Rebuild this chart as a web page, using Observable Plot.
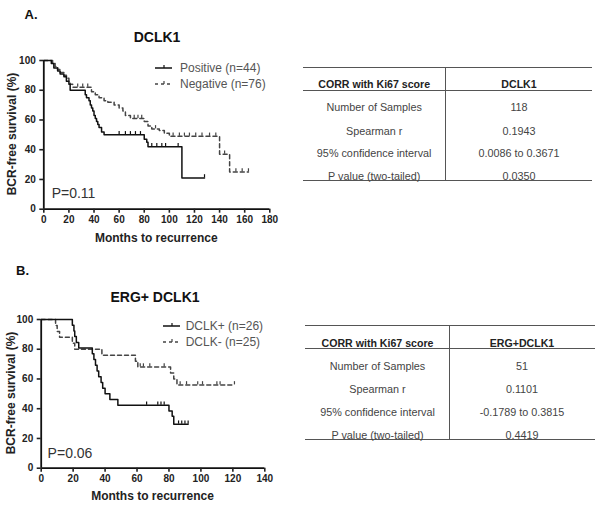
<!DOCTYPE html>
<html>
<head>
<meta charset="utf-8">
<script src="https://cdn.jsdelivr.net/npm/d3@7"></script>
<script src="https://cdn.jsdelivr.net/npm/@observablehq/plot@0.6"></script>
<style>
  html, body { margin: 0; padding: 0; background: #fff; }
  #root { position: relative; width: 600px; height: 507px; overflow: hidden; background: #fff;
          font-family: "Liberation Sans", Arial, sans-serif; }
  .t { position: absolute; white-space: nowrap; line-height: 1; transform: translate(-50%, -50%); }
  .l { position: absolute; white-space: nowrap; line-height: 1; transform: translate(0, -50%); }
  .hr { position: absolute; height: 0; border-top: 1.5px solid #555; }
  .vr { position: absolute; width: 0; border-left: 1.5px solid #555; }
  svg.plot { position: absolute; left: 0; overflow: visible; }
</style>
</head>
<body>
<div id="root"></div>
<script>
// ---------- Data ----------
// Panel A: DCLK1 (months, % BCR-free survival)
const aPositive = [[0,100],[6,98],[8,95],[11,93],[13,91],[16,89],[18,86],[20,84],[21,80],[33,77],[34,75],[36,73],[37,70],[38,68],[39,66],[40,63],[41,61],[42,59],[43,57],[44,55],[46,52],[48,50],[80,47],[82,45],[83,42],[110,21],[128,21]];
const aPositiveCensored = [[60,50],[65,50],[69,50],[73,50],[77,50],[86,42],[90,42],[94,42],[97,42],[107,42],[128,21]];
const aNegative = [[0,100],[7,98],[9,96],[11,94],[13,92],[16,90],[18,88],[20,86],[21,84],[23,82],[38,79],[41,77],[44,75],[48,73],[51,72],[56,70],[60,68],[63,66],[65,63],[69,61],[80,59],[83,56],[86,54],[92,53],[96,51],[100,49],[140,37],[148,25],[163,25]];
const aNegativeCensored = [[27,82],[31,82],[35,82],[72,61],[75,61],[78,61],[89,54],[103,49],[108,49],[112,49],[116,49],[121,49],[126,49],[132,49],[137,49],[144,37],[153,25],[158,25],[163,25]];
const aLegend = ["Positive (n=44)", "Negative (n=76)"];
const aTitle = "DCLK1", aP = "P=0.11";
const aXTicks = [0,20,40,60,80,100,120,140,160,180];

// Panel B: ERG+ DCLK1
const bPositive = [[0,100],[19.5,96.2],[20.5,92.3],[21,88.5],[22,84.6],[23.5,80.8],[32,76.9],[33,73.1],[34,69.2],[35,65.4],[36,61.5],[37.5,57.7],[38.5,53.8],[40,50],[43,46.2],[48,42.3],[80,38.5],[82,35],[83,29.6],[92,29.6]];
const bPositiveCensored = [[66,42.3],[73,42.3],[75,42.3],[77,42.3],[86,29.6],[88,29.6],[90,29.6],[92,29.6]];
const bNegative = [[0,100],[9,96],[10,92],[11.5,88],[19.5,84],[21,80],[38,76],[59,72],[60.5,68],[81,64],[83,60],[85,56],[121,56]];
const bNegativeCensored = [[62,68],[64,68],[68,68],[77,68],[87,56],[91,56],[98,56],[101,56],[110,56],[112,56],[121,56]];
const bLegend = ["DCLK+ (n=26)", "DCLK- (n=25)"];
const bTitle = "ERG+ DCLK1", bP = "P=0.06";
const bXTicks = [0,20,40,60,80,100,120,140];

const yTicks = [0,20,40,60,80,100];
const xLabel = "Months to recurrence";
const yLabel = "BCR-free survival (%)";

// Tables
const tableHeader = "CORR with Ki67 score";
const tableRows = ["Number of Samples", "Spearman r", "95% confidence interval", "P value (two-tailed)"];
const tableAColumn = "DCLK1";
const tableAValues = ["118", "0.1943", "0.0086 to 0.3671", "0.0350"];
const tableBColumn = "ERG+DCLK1";
const tableBValues = ["51", "0.1101", "-0.1789 to 0.3815", "0.4419"];

// ---------- Helpers ----------
const root = document.getElementById("root");
function txt(s, x, y, style, cls) {
  const d = document.createElement("div");
  d.className = cls || "t";
  d.textContent = s;
  d.style.left = x + "px"; d.style.top = y + "px";
  Object.assign(d.style, style || {});
  root.appendChild(d);
  return d;
}
function hr(x1, x2, y) {
  const d = document.createElement("div"); d.className = "hr";
  d.style.left = x1 + "px"; d.style.width = (x2 - x1) + "px"; d.style.top = (y - 0.75) + "px";
  root.appendChild(d);
}
function vr(x, y1, y2) {
  const d = document.createElement("div"); d.className = "vr";
  d.style.left = (x - 0.75) + "px"; d.style.top = y1 + "px"; d.style.height = (y2 - y1) + "px";
  root.appendChild(d);
}
function legendSample(x, y, dashed) {
  const ns = "http://www.w3.org/2000/svg";
  const s = document.createElementNS(ns, "svg");
  s.setAttribute("width", 20); s.setAttribute("height", 8);
  s.style.position = "absolute"; s.style.left = x + "px"; s.style.top = (y - 4) + "px";
  const ln = document.createElementNS(ns, "line");
  ln.setAttribute("x1", 1); ln.setAttribute("x2", 18); ln.setAttribute("y1", 4); ln.setAttribute("y2", 4);
  ln.setAttribute("stroke", dashed ? "#444" : "#111"); ln.setAttribute("stroke-width", 1.5);
  if (dashed) ln.setAttribute("stroke-dasharray", "3,3");
  s.appendChild(ln);
  const tk = document.createElementNS(ns, "line");
  tk.setAttribute("x1", 10); tk.setAttribute("x2", 10); tk.setAttribute("y1", 4); tk.setAttribute("y2", 1);
  tk.setAttribute("stroke", dashed ? "#444" : "#111"); tk.setAttribute("stroke-width", 1.2);
  s.appendChild(tk);
  root.appendChild(s);
}

function kmPlot(cfg) {
  const axisCol = "#111";
  const marks = [
    Plot.line(cfg.neg, {x: d => d[0], y: d => d[1], curve: "step-after", stroke: "#444", strokeWidth: 1.5, strokeDasharray: "4,3"}),
    Plot.ruleX(cfg.negC, {x: d => d[0], y1: d => d[1], y2: d => d[1] + 2.2, stroke: "#444", strokeWidth: 1.2}),
    Plot.line(cfg.pos, {x: d => d[0], y: d => d[1], curve: "step-after", stroke: "#111", strokeWidth: 1.5}),
    Plot.ruleX(cfg.posC, {x: d => d[0], y1: d => d[1], y2: d => d[1] + 2.2, stroke: "#111", strokeWidth: 1.2}),
    Plot.ruleX([0], {stroke: axisCol, strokeWidth: 1.8}),
    Plot.ruleY([0], {stroke: axisCol, strokeWidth: 1.8})
  ];
  const hasAxisMarks = typeof Plot.axisX === "function";
  if (hasAxisMarks) {
    marks.push(Plot.axisX({ticks: cfg.xTicks, tickSize: 4, tickPadding: 3, strokeWidth: 1.6, label: null, fill: "#222"}));
    marks.push(Plot.axisY({ticks: yTicks, tickSize: 4, tickPadding: 4, strokeWidth: 1.6, label: null, fill: "#222"}));
  }
  const p = Plot.plot({
    width: cfg.width, height: cfg.height,
    marginLeft: cfg.ml, marginRight: cfg.mr, marginTop: cfg.mt, marginBottom: cfg.mb,
    style: {fontFamily: "'Liberation Sans', Arial, sans-serif", fontSize: "10px", fontWeight: "bold", background: "transparent", color: "#222", overflow: "visible"},
    x: {domain: [0, cfg.xMax], ...(hasAxisMarks ? {axis: null} : {ticks: cfg.xTicks, tickSize: 4, tickPadding: 3, label: null})},
    y: {domain: [0, 100], ...(hasAxisMarks ? {axis: null} : {ticks: yTicks, tickSize: 4, tickPadding: 4, label: null})},
    marks
  });
  p.classList.add("plot");
  p.style.top = cfg.top + "px";
  root.appendChild(p);
}

// ---------- Panel A ----------
txt("A.", 31, 13.5, {fontSize: "13px", fontWeight: "bold", color: "#111"});
txt(aTitle, 157, 37, {fontSize: "14px", fontWeight: "bold", color: "#111"});
kmPlot({pos: aPositive, posC: aPositiveCensored, neg: aNegative, negC: aNegativeCensored,
        xMax: 180, xTicks: aXTicks, width: 290, height: 225, top: 25,
        ml: 43.3, mr: 20.7, mt: 35, mb: 41.3});
txt(xLabel, 156.3, 238, {fontSize: "12px", fontWeight: "bold", color: "#222"});
txt(yLabel, 12, 134.3, {fontSize: "12px", fontWeight: "bold", color: "#222", transform: "translate(-50%, -50%) rotate(-90deg)"});
legendSample(154, 68.3, false);
legendSample(154, 84, true);
txt(aLegend[0], 180, 68.3, {fontSize: "12px", color: "#555"}, "l");
txt(aLegend[1], 180, 84, {fontSize: "12px", color: "#555"}, "l");
txt(aP, 73.5, 192.7, {fontSize: "14px", color: "#333"});

// ---------- Panel B ----------
txt("B.", 22.5, 269.7, {fontSize: "13px", fontWeight: "bold", color: "#111"});
txt(bTitle, 155, 296.7, {fontSize: "14px", fontWeight: "bold", color: "#111"});
kmPlot({pos: bPositive, posC: bPositiveCensored, neg: bNegative, negC: bNegativeCensored,
        xMax: 140, xTicks: bXTicks, width: 290, height: 217, top: 290,
        ml: 40.7, mr: 25.7, mt: 29, mb: 39.3});
txt(xLabel, 152.5, 495.7, {fontSize: "12px", fontWeight: "bold", color: "#222"});
txt(yLabel, 11, 393.3, {fontSize: "12px", fontWeight: "bold", color: "#222", transform: "translate(-50%, -50%) rotate(-90deg)"});
legendSample(162, 326, false);
legendSample(162, 341.7, true);
txt(bLegend[0], 185.7, 326, {fontSize: "12px", color: "#555"}, "l");
txt(bLegend[1], 185.7, 341.7, {fontSize: "12px", color: "#555"}, "l");
txt(bP, 70, 452.8, {fontSize: "14px", color: "#333"});

// ---------- Tables ----------
function table(cfg) {
  hr(cfg.left, cfg.right, cfg.top);
  hr(cfg.left, cfg.right, cfg.headLine);
  hr(cfg.left, cfg.right, cfg.bottom);
  vr(cfg.divX, cfg.top, cfg.bottom);
  const hs = {fontSize: "10.6px", fontWeight: "bold", color: "#222"};
  txt(tableHeader, cfg.c1, cfg.headY, hs);
  txt(cfg.column, cfg.c2, cfg.headY, hs);
  const rs = {fontSize: "10.8px", color: "#444"};
  tableRows.forEach((r, i) => {
    txt(r, cfg.c1, cfg.rowY[i], rs);
    txt(cfg.values[i], cfg.c2, cfg.rowY[i], rs);
  });
}
table({left: 302.7, right: 591.7, top: 67.3, headLine: 90.7, bottom: 181, divX: 446,
       c1: 374.2, c2: 519, headY: 84.2, rowY: [107.3, 130.6, 152.8, 176.3],
       column: tableAColumn, values: tableAValues});
table({left: 305, right: 595, top: 325.7, headLine: 349, bottom: 440, divX: 450,
       c1: 377.5, c2: 522, headY: 343.3, rowY: [366, 389.3, 411.7, 435],
       column: tableBColumn, values: tableBValues});
</script>
</body>
</html>
